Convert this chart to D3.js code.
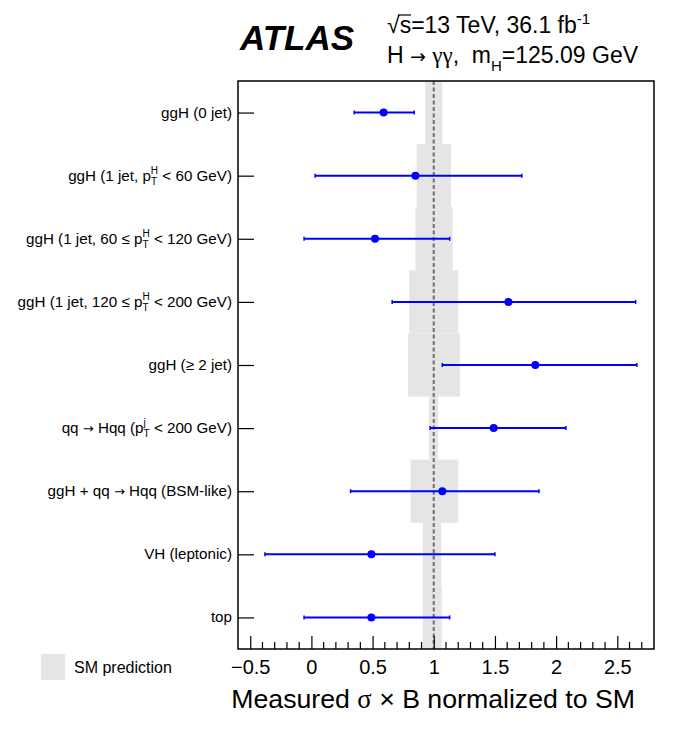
<!DOCTYPE html>
<html>
<head>
<meta charset="utf-8">
<title>ATLAS H to gamma gamma cross sections</title>
<style>
body {
  margin: 0;
  background: #fff;
  font-family: "Liberation Sans", Arial, Helvetica, sans-serif;
}
svg {
  display: block;
}
.ylab {
  font-size: 15.2px;
  text-anchor: end;
}
.arrow {
  font-family: "DejaVu Sans", sans-serif;
}
.pre {
  white-space: pre;
}
.xaxis text {
  font-size: 20px;
  font-family: "Liberation Sans", Arial, sans-serif;
}
</style>
<script src="https://d3js.org/d3.v7.min.js"></script>
</head>
<body>
<div id="chart"></div>
<script>
// categories, top to bottom (ROOT-like markup for pT scripts)
var categories = [
  "ggH (0 jet)",
  "ggH (1 jet, p_{T}^{H} < 60 GeV)",
  "ggH (1 jet, 60 ≤ p_{T}^{H} < 120 GeV)",
  "ggH (1 jet, 120 ≤ p_{T}^{H} < 200 GeV)",
  "ggH (≥ 2 jet)",
  "qq → Hqq (p_{T}^{j} < 200 GeV)",
  "ggH + qq → Hqq (BSM-like)",
  "VH (leptonic)",
  "top"
];
// measured sigma x B / SM with total uncertainty
var measured = [0.59, 0.85, 0.52, 1.61, 1.83, 1.49, 1.07, 0.49, 0.49];
var errLow   = [0.24, 0.82, 0.58, 0.95, 0.76, 0.52, 0.75, 0.87, 0.55];
var errHigh  = [0.25, 0.87, 0.61, 1.04, 0.83, 0.59, 0.79, 1.01, 0.64];
// SM prediction uncertainty (band around 1)
var smLow  = [0.07, 0.14, 0.15, 0.20, 0.21, 0.04, 0.19, 0.09, 0.09];
var smHigh = [0.07, 0.14, 0.155, 0.20, 0.215, 0.035, 0.20, 0.06, 0.065];
var xTicks = [-0.5, 0, 0.5, 1, 1.5, 2, 2.5];

var W = 681, H = 739;
var padL = 238, padR = 654, padT = 81, padB = 649;

var svg = d3.select('#chart').append('svg').attr('width', W).attr('height', H);

var x = d3.scaleLinear().domain([-0.6, 2.8]).range([padL, padR]);
var y = d3.scalePoint().domain(d3.range(categories.length)).range([padT, padB]).padding(0.5);
var step = y.step();

// SM bands
svg.append('g').selectAll('rect').data(categories).enter().append('rect')
  .attr('x', (d, i) => x(1 - smLow[i]))
  .attr('width', (d, i) => x(1 + smHigh[i]) - x(1 - smLow[i]))
  .attr('y', (d, i) => y(i) - step / 2)
  .attr('height', step)
  .attr('fill', '#e5e5e5');

// SM line
svg.append('line')
  .attr('x1', x(1)).attr('x2', x(1))
  .attr('y1', padT).attr('y2', padB)
  .attr('stroke', '#777').attr('stroke-width', 2.2)
  .attr('stroke-dasharray', '4,2.5');

// error bars
var eb = svg.append('g').selectAll('g').data(categories).enter().append('g')
  .attr('stroke', '#0000ff');
eb.append('line')
  .attr('x1', (d, i) => x(measured[i] - errLow[i]))
  .attr('x2', (d, i) => x(measured[i] + errHigh[i]))
  .attr('y1', (d, i) => y(i)).attr('y2', (d, i) => y(i))
  .attr('stroke-width', 2);
eb.append('line')
  .attr('x1', (d, i) => x(measured[i] - errLow[i]))
  .attr('x2', (d, i) => x(measured[i] - errLow[i]))
  .attr('y1', (d, i) => y(i) - 2).attr('y2', (d, i) => y(i) + 2)
  .attr('stroke-width', 1.5);
eb.append('line')
  .attr('x1', (d, i) => x(measured[i] + errHigh[i]))
  .attr('x2', (d, i) => x(measured[i] + errHigh[i]))
  .attr('y1', (d, i) => y(i) - 2).attr('y2', (d, i) => y(i) + 2)
  .attr('stroke-width', 1.5);
svg.append('g').selectAll('circle').data(categories).enter().append('circle')
  .attr('cx', (d, i) => x(measured[i]))
  .attr('cy', (d, i) => y(i))
  .attr('r', 4)
  .attr('fill', '#0000ff');

// x axis: major and minor ticks inward
var xAxis = svg.append('g').attr('class', 'xaxis').attr('transform', `translate(0,${padB})`)
  .call(d3.axisBottom(x).tickValues(xTicks).tickSize(-13).tickPadding(0)
    .tickFormat(d => d3.format('')(d)));
xAxis.select('.domain').remove();
xAxis.selectAll('.tick line').attr('stroke', '#000').attr('stroke-width', 1.2);
xAxis.selectAll('.tick text').attr('y', 25).attr('dy', 0).attr('fill', '#000');
var minor = d3.range(-5, 28).map(v => v / 10).filter(v => Math.abs(v * 2 - Math.round(v * 2)) > 1e-6);
svg.append('g').selectAll('line').data(minor).enter().append('line')
  .attr('x1', d => x(d)).attr('x2', d => x(d))
  .attr('y1', padB).attr('y2', padB - 7)
  .attr('stroke', '#000').attr('stroke-width', 1.2);

// y axis ticks
var yAxis = svg.append('g').attr('transform', `translate(${padL},0)`)
  .call(d3.axisLeft(y).tickSize(-16).tickFormat(''));
yAxis.select('.domain').remove();
yAxis.selectAll('.tick line').attr('stroke', '#000').attr('stroke-width', 1.2);

// frame
svg.append('rect')
  .attr('x', padL).attr('y', padT)
  .attr('width', padR - padL).attr('height', padB - padT)
  .attr('fill', 'none').attr('stroke', '#000').attr('stroke-width', 1.5);

// y labels with stacked pT scripts
var charW = {H: 7.2, T: 6.1, j: 2.2};
function addPlain(t, s) {
  s.split(/(→)/).forEach(function(q) {
    if (!q.length) return;
    var ts = t.append('tspan').text(q);
    if (q === '→') ts.attr('class', 'arrow').attr('font-size', 13);
  });
}
categories.forEach(function(c, i) {
  var t = svg.append('text').attr('class', 'ylab')
    .attr('x', 232).attr('y', y(i) + 5);
  var parts = c.split(/(_\{[^}]*\}\^\{[^}]*\})/);
  parts.forEach(function(p) {
    var m = p.match(/^_\{([^}]*)\}\^\{([^}]*)\}$/);
    if (m) {
      var sub = m[1], sup = m[2];
      t.append('tspan').attr('font-size', 10).attr('dy', -7).text(sup);
      t.append('tspan').attr('font-size', 10).attr('dx', -charW[sup]).attr('dy', 11).text(sub);
      var extra = Math.max(0, charW[sup] - charW[sub]);
      t.append('tspan').attr('dx', extra).attr('dy', -4).text(' ');
    } else if (p.length) {
      addPlain(t, p.replace(/^ /, ''));
    }
  });
});

// legend
svg.append('rect').attr('x', 41).attr('y', 654).attr('width', 24).attr('height', 26).attr('fill', '#e5e5e5');
svg.append('text').attr('x', 74).attr('y', 673).attr('font-size', 16).text('SM prediction');

// x title
var xt = svg.append('text').attr('x', 635).attr('y', 708).attr('font-size', 26.7).attr('text-anchor', 'end');
xt.append('tspan').text('Measured ');
xt.append('tspan').attr('font-family', '"Liberation Serif", "DejaVu Serif", serif').text('σ');
xt.append('tspan').text(' × B normalized to SM');

// header
svg.append('text').attr('x', 240).attr('y', 50)
  .attr('font-size', 35).attr('font-weight', 'bold').attr('font-style', 'italic')
  .text('ATLAS');
var l1 = svg.append('text').attr('x', 387).attr('y', 33).attr('font-size', 23);
l1.append('tspan').text('√');
l1.append('tspan').text('s');
l1.append('tspan').text('=13 TeV, 36.1 fb');
l1.append('tspan').attr('font-size', 15).attr('dy', -9).text('-1');
svg.append('line').attr('x1', 398).attr('x2', 411).attr('y1', 15).attr('y2', 15)
  .attr('stroke', '#000').attr('stroke-width', 1.2);
var l2 = svg.append('text').attr('class', 'pre').attr('x', 387).attr('y', 63).attr('font-size', 23);
l2.append('tspan').text('H ');
l2.append('tspan').attr('class', 'arrow').attr('font-size', 19).text('→');
l2.append('tspan').text(' ');
l2.append('tspan').attr('font-family', '"Liberation Serif", serif').text('γγ');
l2.append('tspan').text(',  m');
l2.append('tspan').attr('font-size', 15).attr('dy', 8).text('H');
l2.append('tspan').attr('dy', -8).text('=125.09 GeV');
</script>
</body>
</html>
